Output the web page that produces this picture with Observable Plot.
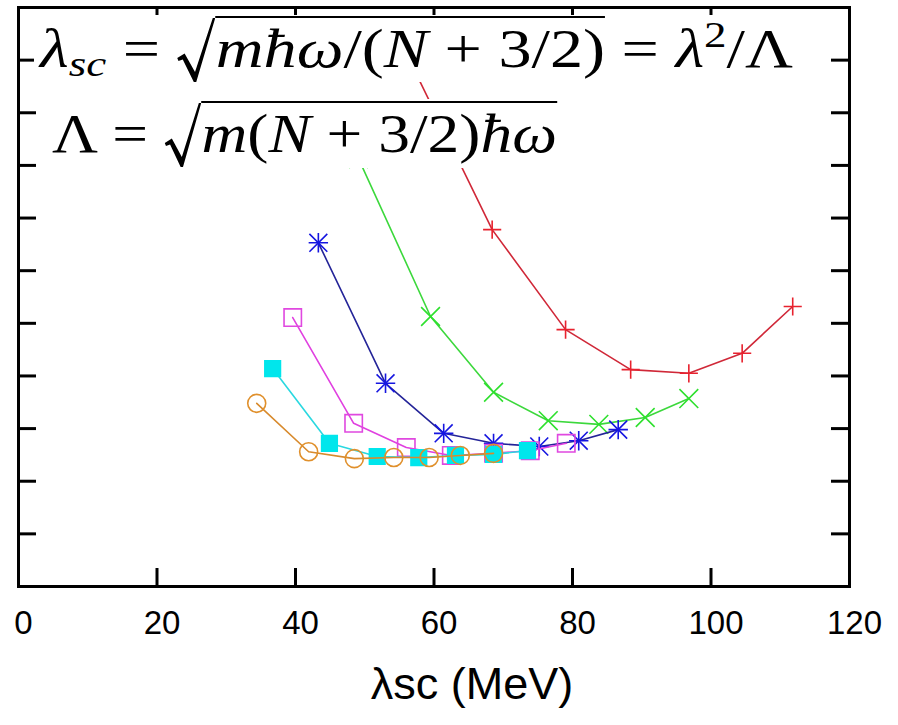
<!DOCTYPE html>
<html>
<head>
<meta charset="utf-8">
<script src="https://cdn.jsdelivr.net/npm/d3@7"></script>
<script src="https://cdn.jsdelivr.net/npm/@observablehq/plot@0.6"></script>
<style>
  body { margin: 0; background: #fff; }
  #wrap { position: relative; width: 898px; height: 725px; overflow: hidden; background: #fff; }
  #wrap svg.plot { position: absolute; left: 0; top: 0; }
  .eq { position: absolute; background: #fff; overflow: visible; }
  .eq .line {
    position: absolute; left: 0; top: 0; white-space: nowrap; color: #000;
    font-family: "Liberation Serif", "Times New Roman", serif; font-size: 54px; line-height: 1;
    transform-origin: 0 0;
  }
  .eq i { font-style: italic; }
  .eq sub { font-size: 0.68em; vertical-align: -0.25em; line-height: 0; }
  .eq sup { font-size: 0.68em; vertical-align: 0.55em; line-height: 0; }
  .eq .rs { vertical-align: -15px; }
  .eq .rad { border-top: 2.5px solid #000; padding-top: 1px; }
  .eq .base { display: inline-block; width: 0; height: 0; }
</style>
</head>
<body>
<div id="wrap"></div>
<script>
// λsc (MeV) values and the corresponding curve values (in y-tick units), one pair per curve
const seriesNames = ["red", "green", "blue", "magenta", "cyan", "orange"];
const lambdaRed     = [56.5, 68.4, 79.0, 88.4, 96.8, 104.5, 111.8];
const valueRed      = [9.99, 6.78, 4.88, 4.12, 4.05, 4.43, 5.32];
const lambdaGreen   = [49.1, 59.5, 68.6, 76.5, 83.8, 90.5, 96.8];
const valueGreen    = [8.13, 5.13, 3.69, 3.15, 3.08, 3.21, 3.57];
const lambdaBlue    = [43.3, 53.0, 61.4, 68.6, 75.2, 80.9, 86.6];
const valueBlue     = [6.53, 3.86, 2.91, 2.72, 2.66, 2.77, 2.98];
const lambdaMagenta = [39.6, 48.4, 56.0, 62.5, 68.6, 73.9, 79.1];
const valueMagenta  = [5.11, 3.10, 2.64, 2.49, 2.53, 2.58, 2.72];
const lambdaCyan    = [36.7, 44.9, 51.8, 57.8, 63.1, 68.6, 73.5];
const valueCyan     = [4.14, 2.72, 2.47, 2.45, 2.49, 2.51, 2.58];
const lambdaOrange  = [34.4, 41.9, 48.5, 54.2, 59.3, 63.8, 68.6];
const valueOrange   = [3.48, 2.56, 2.43, 2.45, 2.45, 2.49, 2.53];

const xTicks = [0, 20, 40, 60, 80, 100, 120];
const yTicks = [0, 1, 2, 3, 4, 5, 6, 7, 8, 9, 10, 11];

// drawing style per curve
const styles = {
  red:     {line: "#d02838", mark: "#e8222e", symbol: ["plus"], r: [5.9], fill: "none"},
  green:   {line: "#3cd83c", mark: "#2ee02e", symbol: ["times"], r: [8.6], fill: "none"},
  blue:    {line: "#242498", mark: "#1616e0", symbol: ["plus", "times"], r: [6.3, 8.2], fill: "none"},
  magenta: {line: "#e040e0", mark: "#e048e0", symbol: ["square"], r: [9.8], fill: "none"},
  cyan:    {line: "#2ad8e0", mark: "#00e6ec", symbol: ["square"], r: [8.8], fill: "#00e6ec"},
  orange:  {line: "#d88a2c", mark: "#e0902c", symbol: ["circle"], r: [9], fill: "none"}
};

const xs = [lambdaRed, lambdaGreen, lambdaBlue, lambdaMagenta, lambdaCyan, lambdaOrange];
const ys = [valueRed, valueGreen, valueBlue, valueMagenta, valueCyan, valueOrange];
const rows = seriesNames.flatMap((s, i) => xs[i].map((x, j) => ({series: s, x, y: ys[i][j]})));

const W = 898, H = 725;
const mL = 18, mR = 49, mT = 7, mB = 139;
const plotW = W - mL - mR, plotH = H - mT - mB;
const tickLen = 18;

const marks = [];
for (const s of seriesNames) {
  const st = styles[s];
  const data = rows.filter(d => d.series === s);
  marks.push(Plot.line(data, {x: "x", y: "y", stroke: st.line, strokeWidth: 1.6}));
  st.symbol.forEach((sym, k) => {
    marks.push(Plot.dot(data, {
      x: "x", y: "y", symbol: sym, r: st.r[k],
      stroke: st.mark, strokeWidth: 1.6,
      fill: st.fill === "none" ? "none" : st.fill
    }));
  });
}

// inward ticks on all four sides of the frame
const innerY = yTicks.slice(1, -1);
const innerX = xTicks.slice(1, -1);
marks.push(
  Plot.tickY(innerY, {y: d => d, stroke: "black", strokeWidth: 3, insetRight: plotW - tickLen}),
  Plot.tickY(innerY, {y: d => d, stroke: "black", strokeWidth: 3, insetLeft: plotW - tickLen}),
  Plot.tickX(innerX, {x: d => d, stroke: "black", strokeWidth: 3, insetTop: plotH - tickLen}),
  Plot.tickX(innerX, {x: d => d, stroke: "black", strokeWidth: 3, insetBottom: plotH - tickLen}),
  Plot.frame({stroke: "black", strokeWidth: 3}),
  Plot.axisX({ticks: xTicks, tickSize: 0, tickPadding: 24, fontSize: 33, dx: 5, label: null, tickFormat: d => String(d)}),
  Plot.text(["λsc (MeV)"], {frameAnchor: "bottom", dy: 112, dx: 38, fontSize: 45, fill: "black"})
);

const chart = Plot.plot({
  width: W, height: H,
  marginLeft: mL, marginRight: mR, marginTop: mT, marginBottom: mB,
  style: {background: "white", fontFamily: "'Liberation Sans', Arial, Helvetica, sans-serif", color: "black"},
  x: {domain: [0, 120], axis: null},
  y: {domain: [0, 11], axis: null},
  marks
});
chart.classList.add("plot");
const wrap = document.getElementById("wrap");
wrap.appendChild(chart);

// equation annotations (white boxes over the plot area)
const radical = '<svg class="rs" width="32" height="64" viewBox="0 0 32 64"><path d="M1 40 L7 35.5 L15.5 54 L30 0 L32 0 L16.5 64 L14.5 64 L5.5 41.5 L2 43 Z" fill="#000"/></svg>';
const eqs = [
  {box: [34, 15, 786, 82], text: [40, 793], baseline: 67,
   html: '<i>λ</i><sub><i>sc</i></sub> = ' + radical +
         '<span class="rad"><i>m</i><i>ħ</i><i>ω</i>/(<i>N</i> + 3/2)</span> = <i>λ</i><sup>2</sup>/Λ'},
  {box: [45, 99, 567, 168], text: [52, 557], baseline: 152,
   html: 'Λ = ' + radical + '<span class="rad"><i>m</i>(<i>N</i> + 3/2)<i>ħ</i><i>ω</i></span>'}
];
for (const e of eqs) {
  const [x0, y0, x1, y1] = e.box;
  const box = document.createElement("div");
  box.className = "eq";
  Object.assign(box.style, {left: x0 + "px", top: y0 + "px", width: (x1 - x0) + "px", height: (y1 - y0) + "px"});
  const line = document.createElement("span");
  line.className = "line";
  line.innerHTML = e.html + '<span class="base"></span>';
  line.style.left = (e.text[0] - x0) + "px";
  box.appendChild(line);
  wrap.appendChild(box);
  const w = line.getBoundingClientRect().width;
  const b = line.querySelector(".base").getBoundingClientRect().bottom;
  line.style.transform = `translate(0px, ${e.baseline - b}px) scaleX(${(e.text[1] - e.text[0]) / w})`;
}
</script>
</body>
</html>
